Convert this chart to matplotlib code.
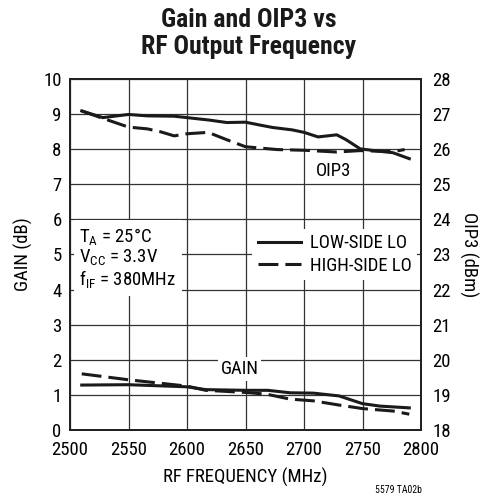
import matplotlib
matplotlib.use("Agg")
import matplotlib.pyplot as plt

plt.rcParams['font.family'] = ['Roboto Condensed', 'DejaVu Sans']
plt.rcParams['mathtext.fontset'] = 'custom'
plt.rcParams['mathtext.rm'] = 'Roboto Condensed'

# OIP3 (dBm) vs RF frequency (MHz)
oip3_freq_low = [2510, 2528, 2550, 2566, 2589, 2600, 2619, 2634, 2650, 2662, 2673,
                 2690, 2700, 2712, 2728, 2736, 2748, 2765, 2776, 2790]
oip3_low = [27.09, 26.90, 26.99, 26.95, 26.94, 26.90, 26.83, 26.76, 26.77, 26.69, 26.62,
            26.55, 26.48, 26.35, 26.41, 26.27, 26.01, 25.94, 25.90, 25.73]
oip3_freq_high = [2510, 2528, 2550, 2566, 2577, 2589, 2600, 2618, 2634, 2650, 2677,
                  2700, 2728, 2748, 2776, 2786]
oip3_high = [27.09, 26.88, 26.63, 26.58, 26.50, 26.38, 26.44, 26.48, 26.27, 26.07, 25.99,
             25.97, 25.92, 25.96, 25.93, 25.99]

# Gain (dB) vs RF frequency (MHz)
gain_freq_low = [2510, 2550, 2600, 2616, 2650, 2669, 2688, 2708, 2730, 2750, 2765, 2790]
gain_low = [1.28, 1.29, 1.23, 1.15, 1.13, 1.13, 1.06, 1.05, 0.97, 0.75, 0.68, 0.63]
gain_freq_high = [2510, 2550, 2600, 2616, 2650, 2668, 2688, 2708, 2730, 2750, 2776, 2790]
gain_high = [1.60, 1.43, 1.25, 1.13, 1.07, 1.02, 0.88, 0.83, 0.71, 0.61, 0.54, 0.45]

fig = plt.figure(figsize=(4.98, 4.96), dpi=100)
ax = fig.add_axes([0.1406, 0.1331, 0.7048, 0.7076])
ax2 = ax.twinx()

lw = 2.2
dash = (6.5, 2.3)
ax.plot(gain_freq_low, gain_low, color='#1a1a1a', lw=lw)
ax.plot(gain_freq_high, gain_high, color='#1a1a1a', lw=lw, dashes=dash)
ax2.plot(oip3_freq_low, oip3_low, color='#1a1a1a', lw=lw, label='LOW-SIDE LO')
ax2.plot(oip3_freq_high, oip3_high, color='#1a1a1a', lw=lw, dashes=dash,
         label='HIGH-SIDE LO')

ax.set_xlim(2500, 2800)
ax.set_ylim(0, 10)
ax2.set_ylim(18, 28)
ax.set_xticks(range(2500, 2801, 50))
ax.set_yticks(range(0, 11))
ax2.set_yticks(range(18, 29))
ax.grid(True, color='#333333', lw=0.9)
ax.tick_params(axis='x', length=0, labelsize=13.5, pad=8)
ax.tick_params(axis='y', length=0, labelsize=13.5, pad=6)
ax2.tick_params(length=0, labelsize=13.5, pad=8)
for a in (ax, ax2):
    for s in a.spines.values():
        s.set_linewidth(1.4)
        s.set_color('#222222')

ax.set_xlabel('RF FREQUENCY (MHz)', fontsize=13.5, labelpad=6)
ax.set_ylabel('GAIN (dB)', fontsize=13.5, labelpad=7)
ax2.set_ylabel('OIP3 (dBm)', fontsize=13.5, rotation=-90, labelpad=20)

fig.text(0.5, 0.983, 'Gain and OIP3 vs\nRF Output Frequency', ha='center', va='top',
         fontsize=18.5, fontweight='bold', linespacing=1.12, color='#1a1a1a')

ax2.text(2725, 25.38, 'OIP3', ha='center', va='center', fontsize=13.5,
         bbox=dict(facecolor='white', edgecolor='none', pad=1.5))
ax.text(2645, 1.74, 'GAIN', ha='center', va='center', fontsize=13.5,
        bbox=dict(facecolor='white', edgecolor='none', pad=2))
ax2.text(2508, 22.9, 'T$\\mathregular{_A}$ = 25°C\nV$\\mathregular{_{CC}}$ = 3.3V\n'
         'f$\\mathregular{_{IF}}$ = 380MHz', ha='left', va='center', fontsize=13.5,
         linespacing=1.05, zorder=5,
         bbox=dict(facecolor='white', edgecolor='none', pad=4))

leg = ax2.legend(loc='center right', bbox_to_anchor=(0.99, 0.5), fontsize=13.5,
                 frameon=True, framealpha=1, edgecolor='none', fancybox=False,
                 handlelength=2.3, handletextpad=0.5, labelspacing=0.25,
                 borderpad=0.3, borderaxespad=0)

fig.text(0.8, 0.002, '5579 TA02b', fontsize=7, ha='center', va='bottom')

fig.savefig('out.png', dpi=100)
